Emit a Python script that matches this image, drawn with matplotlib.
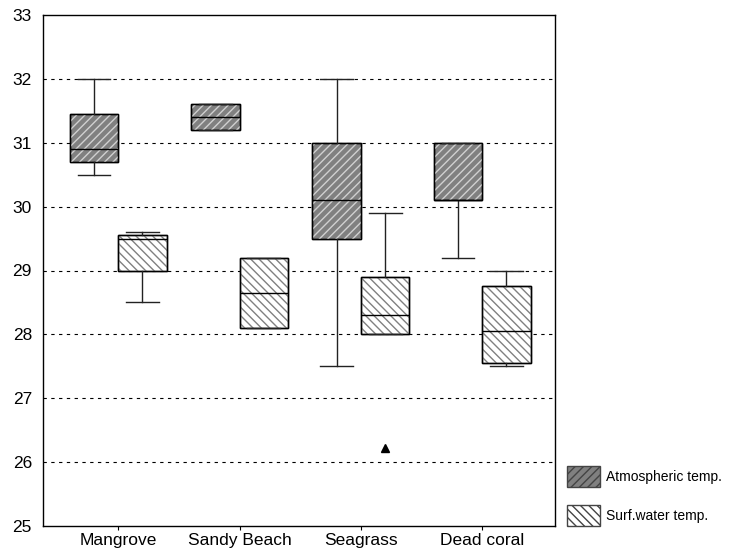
import matplotlib
matplotlib.use("Agg")
import matplotlib.pyplot as plt
from matplotlib.patches import Patch, PathPatch

plt.rcParams['font.family'] = ['Liberation Sans', 'DejaVu Sans']

categories = ["Mangrove", "Sandy Beach", "Seagrass", "Dead coral"]
series = ["Atmospheric temp.", "Surf.water temp."]

# [whislo, q1, med, q3, whishi]
atm_stats = [
    [30.5, 30.7, 30.9, 31.45, 32.0],
    [31.2, 31.2, 31.4, 31.6, 31.6],
    [27.5, 29.5, 30.1, 31.0, 32.0],
    [29.2, 30.1, 30.1, 31.0, 31.0],
]
water_stats = [
    [28.5, 29.0, 29.5, 29.55, 29.6],
    [28.1, 28.1, 28.65, 29.2, 29.2],
    [28.0, 28.0, 28.3, 28.9, 29.9],
    [27.5, 27.55, 28.05, 28.75, 29.0],
]
water_outliers = [[], [], [26.22], []]
yticks = [25, 26, 27, 28, 29, 30, 31, 32, 33]

fig = plt.figure(figsize=(7.33, 5.55), dpi=100)
ax = fig.add_axes([43/733, 1-526/555, 512/733, 511/555])

def mk(stats, fl=None):
    out = []
    for i, s in enumerate(stats):
        out.append(dict(whislo=s[0], q1=s[1], med=s[2], q3=s[3], whishi=s[4],
                        fliers=(fl[i] if fl else [])))
    return out

bw = 0.4
pos = list(range(1, len(categories)+1))
common = dict(widths=bw, capwidths=0.27, patch_artist=True, showfliers=True,
              medianprops=dict(color='black', lw=1),
              whiskerprops=dict(color='#222222', lw=1),
              capprops=dict(color='#222222', lw=1),
              flierprops=dict(marker='^', markerfacecolor='black', markeredgecolor='black', markersize=6),
              boxprops=dict(edgecolor='black', lw=1))
b1 = ax.bxp(mk(atm_stats), positions=[p-0.2 for p in pos], **common)
b2 = ax.bxp(mk(water_stats, water_outliers), positions=[p+0.2 for p in pos], **common)

def style(boxes, face, hatch, hcol):
    for b in boxes:
        b.set_facecolor(face)
        b.set_zorder(2)
        hp = PathPatch(b.get_path(), transform=b.get_transform(), facecolor='none',
                       edgecolor=hcol, lw=0, hatch=hatch, zorder=2.1)
        ax.add_patch(hp)
        op = PathPatch(b.get_path(), transform=b.get_transform(), facecolor='none',
                       edgecolor='black', lw=1, zorder=2.2)
        ax.add_patch(op)

style(b1['boxes'], '#808080', '////', '#d0d0d0')
style(b2['boxes'], 'white', '\\\\\\\\', '#808080')
for k in ('medians', 'whiskers', 'caps', 'fliers'):
    for l in b1[k] + b2[k]:
        l.set_zorder(3)

ax.set_xlim(0.38, 4.6)
ax.set_ylim(25, 33)
ax.set_yticks(yticks)
ax.set_xticks(pos)
ax.set_xticklabels(categories)
ax.tick_params(axis='y', length=0, labelsize=12.5, pad=8)
ax.tick_params(axis='x', length=3, width=0.8, labelsize=12.5, pad=2)
for y in yticks[1:-1]:
    ax.axhline(y, color='black', lw=0.8, ls=(0, (3, 4)), zorder=1)
for s in ax.spines.values():
    s.set_linewidth(1)

h1 = Patch(facecolor='#808080', edgecolor='#444444', hatch='////')
h2 = Patch(facecolor='white', edgecolor='#444444', hatch='\\\\\\\\')
leg = fig.legend([h1, h2], series, loc='upper left', bbox_to_anchor=(567/733, 1-466/555),
                 frameon=False, fontsize=10, handlelength=2.4, handleheight=1.9,
                 labelspacing=1.33, handletextpad=0.4, borderaxespad=0, borderpad=0)

fig.savefig("out.png", dpi=100)
